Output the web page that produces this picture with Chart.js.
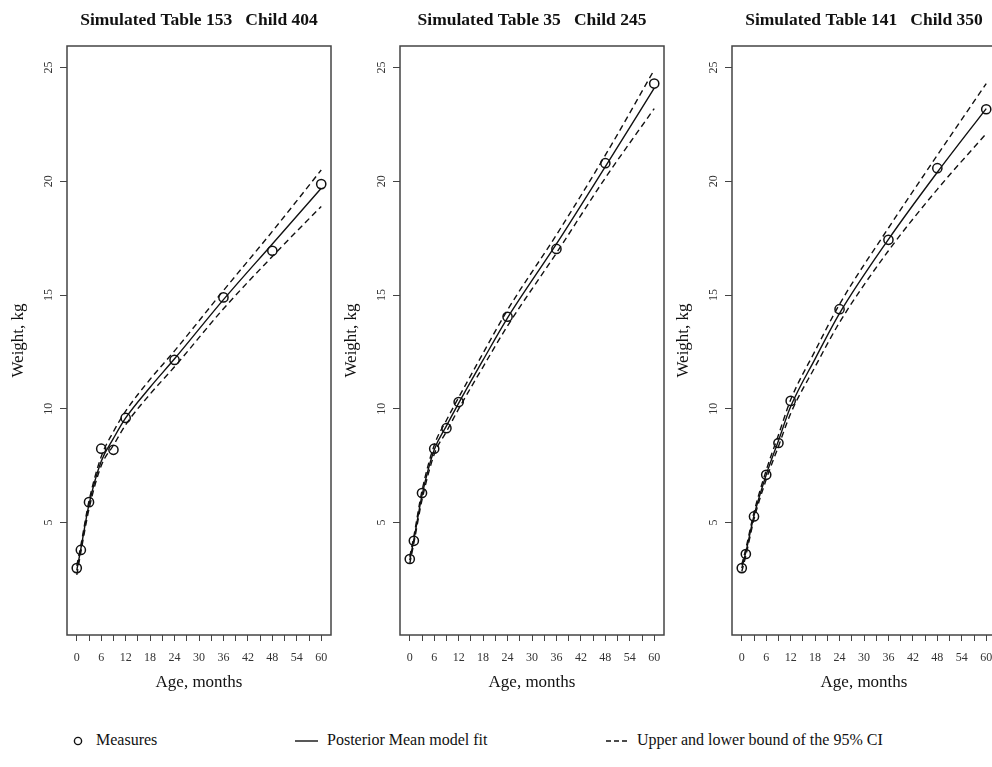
<!DOCTYPE html>
<html>
<head>
<meta charset="utf-8">
<script src="https://cdn.jsdelivr.net/npm/chart.js@4.4.0/dist/chart.umd.min.js"></script>
<style>
    body { margin: 0; width: 992px; height: 767px; overflow: hidden; background: #fff; position: relative; }
    canvas { position: absolute; top: 0; }
    .legend { position: absolute; top: 731px; font-family: "Liberation Serif", serif; font-size: 16px; color: #111; white-space: nowrap; }
    .legend svg { position: absolute; top: 0; }
</style>
</head>
<body>
<canvas id="chart1" width="340" height="700" style="left:0px"></canvas>
<canvas id="chart2" width="340" height="700" style="left:333px"></canvas>
<canvas id="chart3" width="340" height="700" style="left:665px"></canvas>

<div class="legend" style="left:70px">
    <svg width="16" height="20" style="left:0"><circle cx="8" cy="10" r="3.6" fill="none" stroke="#111" stroke-width="1.4"/></svg>
    <span style="position:absolute;left:26px">Measures</span>
</div>
<div class="legend" style="left:294px">
    <svg width="26" height="20" style="left:0"><line x1="1" y1="10" x2="24" y2="10" stroke="#111" stroke-width="1.4"/></svg>
    <span style="position:absolute;left:33px">Posterior Mean model fit</span>
</div>
<div class="legend" style="left:605px">
    <svg width="26" height="20" style="left:0"><line x1="1" y1="10" x2="24" y2="10" stroke="#111" stroke-width="1.4" stroke-dasharray="5,3"/></svg>
    <span style="position:absolute;left:32px">Upper and lower bound of the 95% CI</span>
</div>

<script>
// Axis ticks
const xTicks = [0, 3, 6, 9, 12, 15, 18, 21, 24, 27, 30, 33, 36, 39, 42, 45, 48, 51, 54, 57, 60];
const yTicks = [5, 10, 15, 20, 25];

// Measured ages (months) and fit grid
const measureAges = [0, 1, 3, 6, 9, 12, 24, 36, 48, 60];
const fitAges = [0, 1, 3, 6, 9, 12, 18, 24, 36, 48, 60];

// Table 153 / Child 404
const measures1 = [3.0, 3.8, 5.9, 8.25, 8.2, 9.6, 12.15, 14.9, 16.95, 19.88];
const mean1 = [2.9, 3.85, 5.8, 7.7, 8.7, 9.6, 10.95, 12.2, 14.8, 17.25, 19.7];
const upper1 = [3.1, 4.0, 5.95, 7.9, 9.0, 9.9, 11.3, 12.55, 15.2, 17.8, 20.5];
const lower1 = [2.7, 3.7, 5.6, 7.5, 8.4, 9.3, 10.65, 11.85, 14.4, 16.7, 18.9];

// Table 35 / Child 245
const measures2 = [3.4, 4.2, 6.3, 8.25, 9.15, 10.3, 14.05, 17.03, 20.8, 24.3];
const mean2 = [3.35, 4.25, 6.2, 8.2, 9.25, 10.25, 12.15, 14.0, 17.25, 20.65, 24.1];
const upper2 = [3.5, 4.4, 6.4, 8.4, 9.5, 10.5, 12.45, 14.35, 17.65, 21.15, 24.9];
const lower2 = [3.2, 4.1, 6.0, 8.0, 9.0, 10.0, 11.85, 13.65, 16.85, 20.15, 23.2];

// Table 141 / Child 350
const measures3 = [3.0, 3.62, 5.27, 7.1, 8.5, 10.35, 14.38, 17.43, 20.58, 23.17];
const mean3 = [3.0, 3.7, 5.3, 7.1, 8.6, 10.1, 12.2, 14.2, 17.45, 20.4, 23.2];
const upper3 = [3.15, 3.85, 5.45, 7.3, 8.85, 10.4, 12.55, 14.6, 17.95, 21.15, 24.3];
const lower3 = [2.85, 3.55, 5.15, 6.9, 8.35, 9.8, 11.85, 13.8, 16.95, 19.65, 22.1];

const serif = "Liberation Serif";
const ink = "#111";

function toPoints(xs, ys) {
    return xs.map((x, i) => ({ x: x, y: ys[i] }));
}

// box around the plot region, like R's box()
const boxPlugin = {
    id: "box",
    afterDraw(chart) {
        let a = chart.chartArea;
        let ctx = chart.ctx;
        ctx.save();
        ctx.strokeStyle = "#444";
        ctx.lineWidth = 1.5;
        ctx.strokeRect(a.left, a.top, a.right - a.left, a.bottom - a.top);
        ctx.restore();
    }
};

function fitLine(data, dashed) {
    return {
        type: "line",
        data: data,
        borderColor: ink,
        borderWidth: 1.4,
        borderDash: dashed ? [6, 4] : [],
        pointRadius: 0,
        fill: false,
        cubicInterpolationMode: "monotone"
    };
}

function renderPanel(id, title, measures, mean, upper, lower) {
    let ctx = document.getElementById(id).getContext("2d");
    new Chart(ctx, {
        type: "scatter",
        data: {
            datasets: [
                fitLine(toPoints(fitAges, lower), true),
                fitLine(toPoints(fitAges, upper), true),
                fitLine(toPoints(fitAges, mean), false),
                {
                    data: toPoints(measureAges, measures),
                    showLine: false,
                    pointStyle: "circle",
                    pointRadius: 4.6,
                    pointBorderWidth: 1.5,
                    borderColor: ink,
                    backgroundColor: "rgba(0,0,0,0)"
                }
            ]
        },
        options: {
            responsive: false,
            animation: false,
            layout: { padding: { left: 0, right: 9, top: 0, bottom: 0 } },
            plugins: {
                legend: { display: false },
                tooltip: { enabled: false },
                title: {
                    display: true,
                    text: title,
                    fullSize: false,
                    color: ink,
                    font: { family: serif, size: 17.5, weight: "bold" },
                    padding: { top: 10, bottom: 15 }
                }
            },
            scales: {
                x: {
                    type: "linear",
                    min: -2.4,
                    max: 62.4,
                    afterBuildTicks: s => { s.ticks = xTicks.map(v => ({ value: v })); },
                    afterFit: s => { s.height = 65; },
                    grid: { drawOnChartArea: false, drawTicks: true, tickLength: 6, color: "#444", lineWidth: 1 },
                    border: { display: false },
                    ticks: {
                        color: "#333",
                        font: { family: serif, size: 12 },
                        padding: 10,
                        maxRotation: 0,
                        autoSkip: false,
                        callback: v => (v % 6 === 0 ? String(v) : "")
                    },
                    title: {
                        display: true,
                        text: "Age, months",
                        color: ink,
                        font: { family: serif, size: 17 },
                        padding: { top: 0, bottom: 7 }
                    }
                },
                y: {
                    type: "linear",
                    min: 0.06,
                    max: 25.95,
                    afterBuildTicks: s => { s.ticks = yTicks.map(v => ({ value: v })); },
                    afterFit: s => { s.width = 67; },
                    grid: { drawOnChartArea: false, drawTicks: true, tickLength: 7, color: "#444", lineWidth: 1 },
                    border: { display: false },
                    ticks: {
                        color: "#333",
                        font: { family: serif, size: 12 },
                        padding: 5,
                        minRotation: 90,
                        maxRotation: 90,
                        crossAlign: "center",
                        autoSkip: false
                    },
                    title: {
                        display: true,
                        text: "Weight, kg",
                        color: ink,
                        font: { family: serif, size: 17 },
                        padding: { top: 8, bottom: 0 }
                    }
                }
            }
        },
        plugins: [boxPlugin]
    });
}

renderPanel("chart1", "Simulated Table 153   Child 404", measures1, mean1, upper1, lower1);
renderPanel("chart2", "Simulated Table 35   Child 245", measures2, mean2, upper2, lower2);
renderPanel("chart3", "Simulated Table 141   Child 350", measures3, mean3, upper3, lower3);
</script>
</body>
</html>
